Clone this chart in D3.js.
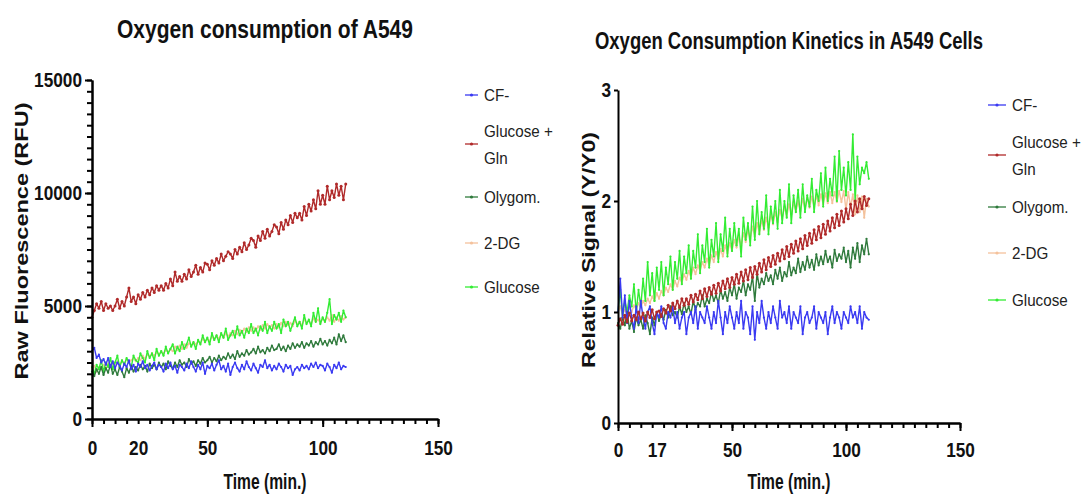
<!DOCTYPE html>
<html>
<head>
<meta charset="utf-8">
<script src="https://cdn.jsdelivr.net/npm/d3@7"></script>
<style>
body { margin: 0; background: #fff; }
svg { display: block; }
</style>
</head>
<body>
<svg></svg>
<script>
// time points (min.)
var times = [0,1,2,3,4,5,6,7,8,9,10,11,12,13,14,15,16,17,18,19,20,21,22,23,24,25,26,27,28,29,
	30,31,32,33,34,35,36,37,38,39,40,41,42,43,44,45,46,47,48,49,50,51,52,53,54,55,56,57,58,59,
	60,61,62,63,64,65,66,67,68,69,70,71,72,73,74,75,76,77,78,79,80,81,82,83,84,85,86,87,88,89,
	90,91,92,93,94,95,96,97,98,99,100,101,102,103,104,105,106,107,108,109,110];

var seriesNames = ["CF-", "Glucose + Gln", "Olygom.", "2-DG", "Glucose"];
var seriesColors = ["#3a3af2", "#b02a2a", "#2f7a3c", "#f4c29c", "#33ec33"];

// left chart - raw fluorescence (RFU)
var rawCF = [3000,3150,2700,2850,2500,2650,2400,2700,2300,2550,
	2250,2500,2350,2150,2450,2300,2600,2200,2400,2100,
	2450,2300,2550,2250,2400,2150,2350,2500,2200,2400,
	2300,2100,2450,2250,2500,2200,2350,2050,2400,2300,
	2150,2450,2250,2550,2300,2100,2400,2200,2500,2000,
	2350,2250,2450,2150,2400,2600,2200,2350,2100,2450,
	1950,2300,2500,2250,2100,2400,2200,2550,2300,2150,
	2450,2250,2050,2400,2300,2600,2250,2400,2150,2350,
	2200,2450,2300,2100,2400,2250,2350,1950,2200,2300,
	2150,2400,2250,2350,2200,2450,2300,2500,2250,2400,
	2350,2150,2450,2300,2050,2400,2250,2500,2200,2350,2300];
var rawGln = [4500,4800,5100,4900,5200,4800,5100,4900,5000,4800,
	5000,5300,4900,5200,5000,5400,5800,5200,5400,5100,
	5500,5300,5600,5400,5700,5500,5800,5600,5900,5700,
	5900,5700,6000,5800,6200,5900,6500,6100,6300,6100,
	6400,6200,6600,6300,6500,6800,6400,6700,6500,6900,
	6850,6600,7000,6800,7100,6900,7300,7000,7200,7400,
	7300,7100,7500,7300,7600,7400,7800,7500,7700,8000,
	7900,7600,8100,7900,8300,8000,8400,8100,8300,8600,
	8500,8200,8700,8400,8800,8600,9000,8700,9100,8900,
	9100,8800,9400,9000,9500,9200,9700,9300,10100,9500,
	9900,9500,10300,9700,10100,9800,10400,9900,10300,9700,10400];
var rawOlygom = [2100,1900,2200,2000,2300,1950,2250,2050,2400,2000,
	2200,1950,2300,2100,1850,2250,2050,2350,2100,2300,
	2150,2400,2200,2350,2100,2450,2250,2400,2200,2500,
	2300,2450,2200,2550,2350,2250,2500,2300,2600,2400,
	2500,2300,2650,2450,2550,2350,2600,2450,2700,2500,
	2600,2750,2500,2700,2550,2800,2600,2750,2650,2900,
	2700,2850,2650,3000,2750,2900,2800,3050,2850,2950,
	3100,2900,3200,2950,3050,2900,3150,3000,3250,3050,
	3100,3300,3050,3200,3000,3250,3100,3350,3150,3300,
	3200,3400,3150,3350,3250,3450,3200,3400,3300,3550,
	3300,3450,3250,3500,3350,3600,3300,3750,3450,3700,3400];
var raw2DG = [2200,2350,2100,2300,2200,2400,2250,2450,2300,2500,
	2350,2550,2400,2600,2450,2650,2500,2600,2700,2550,
	2700,2600,2800,2650,2850,2750,2900,2800,2950,2850,
	3000,2900,3050,2950,3100,3000,3200,3050,3250,3100,
	3300,3150,3350,3250,3400,3300,3450,3350,3550,3400,
	3550,3450,3650,3500,3700,3550,3750,3600,3800,3650,
	3800,3700,3900,3750,3950,3800,4000,3850,4050,3900,
	4050,3900,4100,3950,4150,4000,4200,4050,4150,4000,
	4200,4050,4250,4100,4300,4150,4250,4100,4350,4200,
	4300,4150,4400,4250,4350,4200,4450,4300,4400,4250,
	4450,4300,4500,4350,4600,4300,4500,4350,4550,4400,4500];
var rawGlucose = [2300,2000,2400,2200,2600,2100,2500,2300,2700,2200,
	2500,2800,2300,2600,2400,2700,2500,2300,2800,2600,
	2500,2900,2700,2500,3000,2700,2900,2600,3100,2800,
	3000,2800,3200,2900,3100,3300,2900,3200,3000,3400,
	3100,3300,3600,3200,3400,3100,3500,3300,3700,3400,
	3600,3300,3800,3500,3700,3400,3800,3600,4000,3500,
	3700,3900,3600,4100,3700,3900,3600,4000,3800,4200,
	3800,4000,3700,4100,3900,4300,3800,4100,3900,4300,
	4000,4200,3800,4400,4100,4300,3900,4200,4500,4100,
	4300,4000,4600,4200,4400,4100,4700,4300,4900,4200,
	4500,4300,4700,5300,4200,4600,4400,4700,4300,4800,4500];

// right chart - relative signal (Y/Y0)
var relCF = [1.00,1.30,0.95,1.15,0.90,1.10,0.95,0.85,1.05,0.90,
	1.10,0.95,0.85,1.00,1.05,0.90,0.80,1.00,0.95,1.05,
	0.90,0.85,1.00,0.95,1.05,0.90,1.00,0.85,0.95,1.00,
	0.80,0.95,1.00,0.90,1.05,0.85,1.00,0.95,0.90,1.05,
	0.95,0.85,1.00,0.90,1.10,0.95,0.80,1.00,0.90,1.05,
	0.95,0.85,1.00,0.90,1.10,0.85,1.00,0.95,0.80,1.05,
	0.75,1.00,0.90,1.10,0.95,0.85,1.00,0.90,1.05,0.95,
	0.85,1.10,0.95,1.00,0.90,1.05,0.85,1.00,0.95,0.90,
	1.05,0.80,0.95,1.00,0.90,0.95,1.05,0.85,1.00,0.95,
	0.90,1.00,0.80,0.95,1.05,0.90,1.00,0.95,0.85,1.00,
	0.95,0.90,1.05,0.95,1.00,0.90,1.05,0.85,1.00,0.95,0.93];
var relGln = [0.88,0.94,0.89,0.97,0.91,0.99,0.92,0.97,0.93,1.00,
	0.94,0.99,0.92,1.00,0.95,1.02,0.94,1.00,1.01,0.96,
	1.03,0.99,1.06,1.01,1.08,1.03,1.10,1.04,1.12,1.06,
	1.12,1.07,1.15,1.09,1.16,1.11,1.19,1.12,1.21,1.14,
	1.22,1.16,1.24,1.17,1.26,1.19,1.28,1.21,1.30,1.22,
	1.31,1.25,1.34,1.26,1.36,1.28,1.38,1.29,1.40,1.31,
	1.41,1.34,1.44,1.36,1.47,1.38,1.49,1.41,1.51,1.43,
	1.53,1.46,1.56,1.48,1.59,1.50,1.61,1.53,1.64,1.55,
	1.66,1.57,1.69,1.60,1.71,1.62,1.74,1.65,1.77,1.67,
	1.79,1.70,1.82,1.73,1.85,1.76,1.88,1.78,1.91,1.81,
	1.93,1.84,1.97,1.87,2.00,1.90,2.02,1.93,2.04,1.96,2.02];
var relOlygom = [0.90,0.85,0.95,0.88,1.00,0.85,0.92,0.82,0.95,0.88,
	0.93,0.85,0.97,0.90,0.80,0.95,0.88,1.00,0.92,0.98,
	0.93,1.02,0.95,1.05,0.97,1.00,0.95,1.05,0.98,1.08,
	1.00,1.05,0.98,1.10,1.02,1.08,1.05,1.15,1.05,1.12,
	1.08,1.18,1.10,1.15,1.08,1.20,1.12,1.18,1.10,1.22,
	1.15,1.25,1.12,1.22,1.18,1.28,1.15,1.25,1.20,1.32,
	1.10,1.35,1.22,1.30,1.25,1.35,1.28,1.33,1.25,1.38,
	1.30,1.40,1.28,1.36,1.32,1.45,1.33,1.40,1.35,1.48,
	1.36,1.45,1.38,1.50,1.40,1.47,1.38,1.52,1.42,1.50,
	1.43,1.55,1.45,1.50,1.40,1.56,1.46,1.52,1.48,1.58,
	1.45,1.55,1.40,1.58,1.48,1.62,1.45,1.60,1.52,1.66,1.52];
var rel2DG = [1.00,1.05,0.97,1.02,0.98,1.04,1.00,1.06,1.02,1.08,
	1.04,1.10,1.06,1.12,1.08,1.14,1.10,1.17,1.12,1.19,
	1.15,1.22,1.18,1.25,1.20,1.28,1.23,1.31,1.26,1.34,
	1.29,1.37,1.31,1.40,1.34,1.42,1.37,1.45,1.40,1.48,
	1.42,1.51,1.45,1.54,1.48,1.57,1.50,1.60,1.53,1.62,
	1.55,1.65,1.58,1.68,1.60,1.71,1.63,1.74,1.66,1.77,
	1.68,1.80,1.71,1.83,1.74,1.85,1.76,1.88,1.79,1.90,
	1.81,1.92,1.84,1.95,1.86,1.97,1.88,1.99,1.90,2.00,
	1.91,2.02,1.93,2.03,1.94,2.04,1.95,2.05,1.96,2.06,
	1.97,2.07,1.98,2.08,1.98,2.08,1.99,2.09,1.99,2.09,
	1.92,2.08,1.95,2.06,1.88,2.05,1.90,2.04,1.85,2.02,1.95];
var relGlucose = [1.00,1.20,0.95,1.10,1.00,1.15,1.05,1.25,1.00,1.20,
	1.05,1.30,1.10,1.45,1.15,1.35,1.10,1.40,1.20,1.45,
	1.15,1.40,1.25,1.50,1.20,1.45,1.30,1.55,1.25,1.50,
	1.35,1.60,1.30,1.55,1.40,1.70,1.35,1.60,1.45,1.75,
	1.40,1.65,1.50,1.80,1.45,1.70,1.55,1.85,1.50,1.75,
	1.55,1.80,1.60,1.75,1.50,1.85,1.65,1.80,1.60,1.95,
	1.65,2.00,1.70,1.90,1.75,2.05,1.70,1.95,1.80,2.00,
	1.75,2.10,1.80,2.00,1.85,2.15,1.80,2.05,1.90,2.10,
	1.85,2.15,1.90,2.05,1.95,2.20,1.90,2.10,2.00,2.25,
	1.95,2.30,2.00,2.20,2.05,2.40,2.00,2.45,2.10,2.30,
	2.05,2.35,2.10,2.60,2.00,2.40,2.15,2.30,2.25,2.35,2.20];

// tick labels
var leftYTicks = [0, 5000, 10000, 15000];
var rightYTicks = [0, 1, 2, 3];
var leftXLabels = [0, 20, 50, 100, 150];
var rightXLabels = [0, 17, 50, 100, 150];

var font = "'Liberation Sans', Arial, sans-serif";

var svgWidth = 1086, svgHeight = 494;
var svg = d3.select('svg')
	.attr("width", svgWidth)
	.attr("height", svgHeight);

// squeeze text horizontally, the reference type is condensed
function squeeze(sel, f) {
	sel.each(function(){
		var w = this.getComputedTextLength();
		d3.select(this).attr("textLength", w * f).attr("lengthAdjust", "spacingAndGlyphs");
	});
}

function styleAxis(sel) {
	sel.selectAll("path, line").attr("stroke", "#000").attr("stroke-width", 2);
	sel.attr("font-family", font).attr("font-size", 21).attr("font-weight", "bold");
	sel.selectAll("text").attr("fill", "#111");
}

function panel(p) {
	var xScale = d3.scaleLinear().domain([0, 150]).range([p.x0, p.x1]);
	var yScale = d3.scaleLinear().domain([0, p.yMax]).range([p.y0, p.y1]);
	var g = svg.append("g");

	// series, back to front
	var line = d3.line()
		.x(function(d, i){ return xScale(times[i]); })
		.y(function(d){ return yScale(d); });

	p.order.forEach(function(k){
		var s = g.append("g");
		s.append("path")
			.datum(p.data[k])
			.attr("d", line)
			.attr("fill", "none")
			.attr("stroke", seriesColors[k])
			.attr("stroke-width", 1.4)
			.attr("stroke-linejoin", "round");
		s.selectAll("circle")
			.data(p.data[k])
			.enter()
			.append("circle")
			.attr("cx", function(d, i){ return xScale(times[i]); })
			.attr("cy", function(d){ return yScale(d); })
			.attr("r", k == 1 ? 1.5 : 1.1)
			.attr("fill", seriesColors[k]);
	});

	// x axis: minor ticks every 5, major at 0/50/100/150, then labels
	g.append("g")
		.attr("transform", `translate(0, ${p.y0})`)
		.call(d3.axisBottom(xScale).tickValues(d3.range(0, 151, 5)).tickSize(5).tickSizeOuter(0).tickFormat(""))
		.call(styleAxis);
	g.append("g")
		.attr("transform", `translate(0, ${p.y0})`)
		.call(d3.axisBottom(xScale).tickValues([0, 50, 100, 150]).tickSize(8).tickSizeOuter(0).tickFormat(""))
		.call(styleAxis);
	var xl = g.append("g")
		.attr("transform", `translate(0, ${p.y0})`)
		.call(d3.axisBottom(xScale).tickValues(p.xLabels).tickSize(0).tickPadding(p.xPad).tickFormat(d3.format("d")))
		.call(styleAxis);
	xl.select(".domain").remove();
	squeeze(xl.selectAll("text"), 0.82);

	// y axis
	if (p.yMinor) {
		g.append("g")
			.attr("transform", `translate(${p.x0}, 0)`)
			.call(d3.axisLeft(yScale).tickValues(d3.range(0, p.yMax + 1, p.yMinor)).tickSize(5).tickSizeOuter(0).tickFormat(""))
			.call(styleAxis);
	}
	var yl = g.append("g")
		.attr("transform", `translate(${p.x0}, 0)`)
		.call(d3.axisLeft(yScale).tickValues(p.yTicks).tickSize(p.yTickLen).tickPadding(p.yPad).tickSizeOuter(0).tickFormat(d3.format("d")))
		.call(styleAxis);
	squeeze(yl.selectAll("text"), 0.82);

	// titles
	g.append("text")
		.attr("x", p.titleX).attr("y", p.titleY)
		.attr("text-anchor", "middle")
		.attr("font-family", font).attr("font-weight", "bold")
		.attr("font-size", p.titleSize)
		.attr("textLength", p.titleLen).attr("lengthAdjust", "spacingAndGlyphs")
		.attr("fill", "#111")
		.text(p.title);

	g.append("text")
		.attr("x", (p.x0 + p.x1) / 2).attr("y", 489)
		.attr("text-anchor", "middle")
		.attr("font-family", font).attr("font-weight", "bold")
		.attr("font-size", 22)
		.attr("textLength", 83).attr("lengthAdjust", "spacingAndGlyphs")
		.attr("fill", "#111")
		.text("Time (min.)");

	g.append("text")
		.attr("transform", `translate(${p.yTitleX}, ${p.yTitleY}) rotate(-90)`)
		.attr("text-anchor", "middle")
		.attr("font-family", font).attr("font-weight", "bold")
		.attr("font-size", 19)
		.attr("textLength", p.yTitleLen).attr("lengthAdjust", "spacingAndGlyphs")
		.attr("fill", "#111")
		.text(p.yTitle);

	// legend
	var leg = g.append("g");
	seriesNames.forEach(function(name, k){
		var ly = p.legY[k];
		leg.append("line")
			.attr("x1", p.legX).attr("x2", p.legX + p.legW)
			.attr("y1", ly).attr("y2", ly)
			.attr("stroke", seriesColors[k]).attr("stroke-width", 1.3);
		leg.append("circle")
			.attr("cx", p.legX + p.legW / 2).attr("cy", ly).attr("r", 1.6)
			.attr("fill", seriesColors[k]);
		var lines = name == "Glucose + Gln" ? ["Glucose +", "Gln"] : [name];
		lines.forEach(function(t, j){
			var off = lines.length == 1 ? 0 : (j == 0 ? -13 : 14);
			leg.append("text")
				.attr("x", p.legX + p.legW + 6)
				.attr("y", ly + off + 6)
				.attr("font-family", font)
				.attr("font-size", 16.5)
				.attr("fill", "#222")
				.text(t);
		});
	});
	squeeze(leg.selectAll("text"), 0.92);
}

// left panel
panel({
	x0: 92, x1: 438, y0: 419, y1: 80,
	yMax: 15000, yTicks: leftYTicks, yMinor: 500, yTickLen: 7, yPad: 3,
	xLabels: leftXLabels, xPad: 21,
	data: [rawCF, rawGln, rawOlygom, raw2DG, rawGlucose],
	order: [3, 4, 2, 0, 1],
	title: "Oxygen consumption of A549", titleX: 265, titleY: 38, titleSize: 25, titleLen: 296,
	yTitle: "Raw Fluorescence (RFU)", yTitleX: 28, yTitleY: 241, yTitleLen: 277,
	legX: 465, legW: 13, legY: [95, 144, 197, 243, 287]
});

// right panel
panel({
	x0: 618, x1: 960, y0: 423, y1: 90,
	yMax: 3, yTicks: rightYTicks, yMinor: 0, yTickLen: 4, yPad: 3,
	xLabels: rightXLabels, xPad: 19,
	data: [relCF, relGln, relOlygom, rel2DG, relGlucose],
	order: [3, 4, 2, 0, 1],
	title: "Oxygen Consumption Kinetics in A549 Cells", titleX: 789, titleY: 49, titleSize: 23, titleLen: 388,
	yTitle: "Relative Signal (Y/Y0)", yTitleX: 595, yTitleY: 250, yTitleLen: 236,
	legX: 988, legW: 18, legY: [105, 155, 207, 253, 300]
});
</script>
</body>
</html>
